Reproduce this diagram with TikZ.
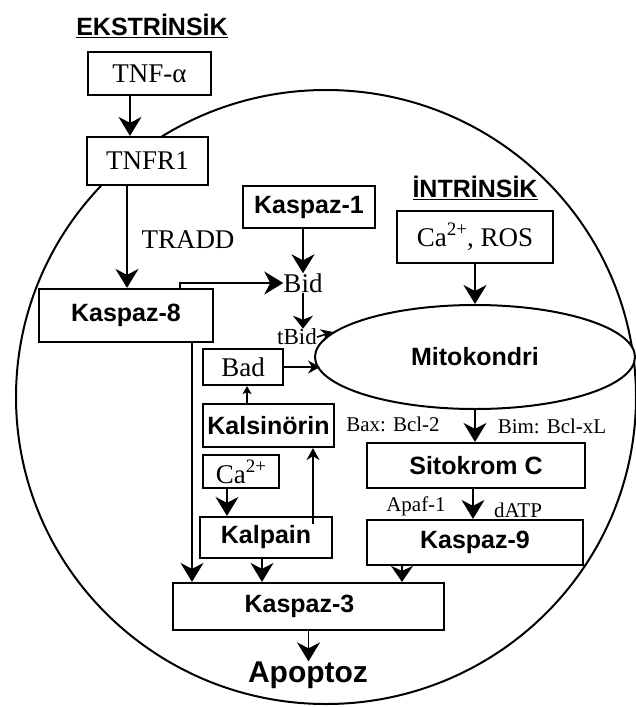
\documentclass[tikz,border=0pt]{standalone}
\usepackage{fontspec}
\setmainfont{Liberation Serif}
\setsansfont{Liberation Sans}
\usetikzlibrary{shapes.geometric,arrows.meta}
\newcommand{\chgsup}[1]{\raisebox{0.4em}{\fontsize{19}{20}\selectfont #1}}
\begin{document}
\begin{tikzpicture}[x=1pt,y=-1pt,
  box/.style={draw,line width=2.2pt,fill=white,inner sep=0pt},
  serif/.style={font=\fontsize{27}{30}\selectfont},
  sans/.style={font=\sffamily\bfseries\fontsize{25}{28}\selectfont},
  small/.style={font=\fontsize{21}{24}\selectfont,inner sep=0pt},
  arr/.style={line width=1.6pt,-{Stealth[length=19pt,width=23pt,inset=6pt]}},
  karr/.style={line width=1.6pt,-{Stealth[length=16pt,width=22pt,inset=5pt]}},
  farr/.style={line width=1.6pt,-{Stealth[length=13pt,width=20pt,inset=4pt]}},
  marr/.style={line width=1.6pt,-{Stealth[length=12pt,width=13pt,inset=4pt]}},
  sarr/.style={line width=1.6pt,-{Stealth[length=8pt,width=9pt,inset=2pt]}},
]
\useasboundingbox[fill=white] (0,0) rectangle (636,707);
% cell
\node[ellipse,draw,line width=2pt,minimum width=620pt,minimum height=614pt,inner sep=0pt] (cell) at (326,397) {};
% headings
\node[sans,inner sep=0pt] (ekst) at (152,26) {\underline{EKSTRİNSİK}};
\node[sans,inner sep=0pt] (intr) at (475,188) {\underline{İNTRİNSİK}};
% boxes
\node[box,serif,minimum width=123pt,minimum height=43pt] (tnfa) at (149.5,73.5) {TNF-α};
\node[box,serif,minimum width=121pt,minimum height=48pt] (tnfr1) at (147.5,161) {TNFR1};
\node[box,sans,minimum width=174pt,minimum height=53pt] (k8) at (126,315.5) {Kaspaz-8};
\node[box,sans,minimum width=132pt,minimum height=42pt] (k1) at (309,207) {Kaspaz-1};
\node[box,serif,minimum width=156pt,minimum height=52pt] (ca) at (475,237) {Ca\chgsup{2+}, ROS};
\node[ellipse,draw,line width=2pt,fill=white,minimum width=320pt,minimum height=104pt,inner sep=0pt,sans] (mito) at (475,357) {Mitokondri};
\node[box,serif,minimum width=80pt,minimum height=36pt] (bad) at (243,367) {Bad};
\node[box,sans,minimum width=131pt,minimum height=43pt] (kals) at (268.5,425.5) {Kalsinörin};
\node[box,serif,minimum width=76pt,minimum height=33pt] (ca2) at (241,471.5) {Ca\chgsup{2+}};
\node[box,sans,minimum width=132pt,minimum height=41pt] (kalp) at (266,537.5) {Kalpain};
\node[box,sans,minimum width=218pt,minimum height=45pt] (sito) at (476,465.5) {Sitokrom C};
\node[box,sans,minimum width=216pt,minimum height=45pt] (k9) at (475,542.5) {Kaspaz-9};
\node[box,sans,minimum width=271pt,minimum height=47pt] (k3) at (308.5,606.5) {Kaspaz-3\hspace*{18pt}};
% plain texts
\node[serif,inner sep=0pt] (bid) at (303,283) {Bid};
\node[font=\fontsize{23}{26}\selectfont,inner sep=0pt] (tbid) at (297,337) {tBid};
\node[font=\sffamily\bfseries\fontsize{30}{34}\selectfont,inner sep=0pt] (apop) at (308,675) {Apoptoz};
\node[serif,inner sep=0pt] (tradd) at (188,240) {TRADD};
\node[small] (bax) at (393,424) {Bax: Bcl-2};
\node[small] (bim) at (552,426) {Bim: Bcl-xL};
\node[small] (apaf) at (416,506) {Apaf-1};
\node[small] (datp) at (518,510) {dATP};
% connectors
\draw[arr] ([xshift=-19.5pt]tnfa.south) -- ([xshift=-19.5pt]tnfa.south |- tnfr1.north);
\draw[arr] ([xshift=-20.5pt]tnfr1.south) -- ([xshift=-20.5pt]tnfr1.south |- k8.north);
\draw[arr] ([xshift=54pt]k8.north) |- (bid.west);
\draw[arr] (k1.south -| bid.north) -- (bid.north);
\draw[farr] (bid.south) -- (bid.south |- tbid.north);
\draw[marr] (tbid.east) -- (mito.170);
\draw[marr] (bad.east) -- ([xshift=6pt]bad.east -| mito.west);
\draw[sarr] ([xshift=4pt]bad.south |- kals.north) -- ([xshift=4pt]bad.south);
\draw[marr] ([xshift=47pt,yshift=-8pt]kalp.north) -- ([xshift=47pt]kalp.north |- kals.south);
\draw[arr] ([xshift=-14pt]ca2.south) -- ([xshift=-14pt]ca2.south |- kalp.north);
\draw[arr] ([xshift=66pt]k8.south) -- ([xshift=66pt]k8.south |- k3.north);
\draw[arr] ([xshift=-4pt]kalp.south) -- ([xshift=-4pt]kalp.south |- k3.north);
\draw[karr] ([xshift=-73pt]k9.south) -- ([xshift=-73pt]k9.south |- k3.north);
\draw[arr] (k3.south) -- (k3.south |- apop.north);
\draw[arr] (ca.south) -- (ca.south |- mito.north);
\draw[arr] (mito.south) -- (mito.south |- sito.north);
\draw[arr] ([xshift=-3pt]sito.south) -- ([xshift=-3pt]sito.south |- k9.north);
\end{tikzpicture}
\end{document}
